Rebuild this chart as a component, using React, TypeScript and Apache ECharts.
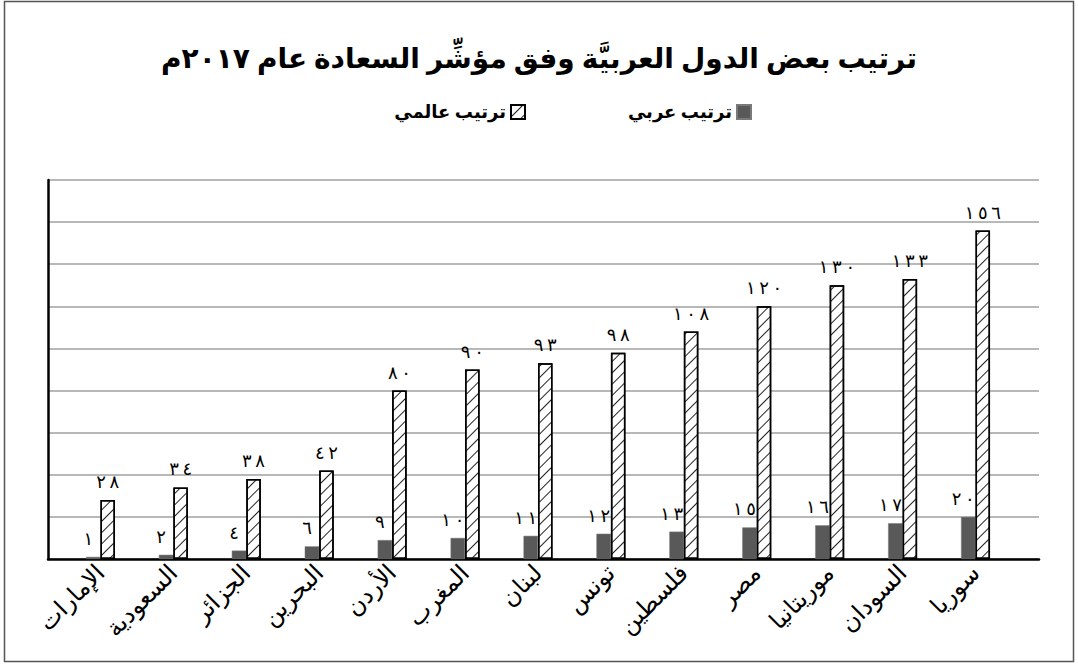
import React, { useEffect, useRef } from "react";
import * as echarts from "echarts";

const title = "ترتيب بعض الدول العربيَّة وفق مؤشِّر السعادة عام ٢٠١٧م";
const seriesArabName = "ترتيب عربي";
const seriesWorldName = "ترتيب عالمي";
const countries = [
  "الإمارات",
  "السعودية",
  "الجزائر",
  "البحرين",
  "الأردن",
  "المغرب",
  "لبنان",
  "تونس",
  "فلسطين",
  "مصر",
  "موريتانيا",
  "السودان",
  "سوريا",
];
const arabRank = [1, 2, 4, 6, 9, 10, 11, 12, 13, 15, 16, 17, 20];
const worldRank = [28, 34, 38, 42, 80, 90, 93, 98, 108, 120, 130, 133, 156];
const yMax = 180;
const yInterval = 20;

const toArabicDigits = (n: number | string) =>
  "\u202D" +
  String(n)
    .replace(/\d/g, (d) => "٠١٢٣٤٥٦٧٨٩"[+d])
    .split("")
    .join("\u2009") +
  "\u202C";

const FONT = "'Times New Roman', 'Liberation Serif', 'DejaVu Sans', serif";

export default function App() {
  const ref = useRef<HTMLDivElement>(null);
  useEffect(() => {
    if (!ref.current) return;
    const chart = echarts.init(ref.current, undefined, { renderer: "svg" });
    const hatch = {
      symbol: "rect",
      symbolSize: 1,
      color: "#222",
      backgroundColor: "#fff",
      dashArrayX: [1, 0],
      dashArrayY: [1, 7],
      rotation: -Math.PI / 4,
    };
    const legendText = { fontSize: 18, fontWeight: "bold", color: "#000", fontFamily: FONT };
    chart.setOption({
      animation: false,
      backgroundColor: "#fff",
      textStyle: { fontFamily: FONT },
      title: {
        text: title,
        left: "center",
        top: 39,
        textStyle: { fontSize: 28, fontWeight: "bold", color: "#000", fontFamily: FONT },
      },
      legend: [
        {
          data: [{ name: seriesArabName, icon: "rect" }],
          right: 1078 - 757,
          top: 98,
          align: "right",
          itemWidth: 14,
          itemHeight: 14,
          textStyle: legendText,
        },
        {
          data: [{ name: seriesWorldName, icon: "rect" }],
          right: 1078 - 531,
          top: 98,
          align: "right",
          itemWidth: 14,
          itemHeight: 14,
          textStyle: legendText,
        },
      ],
      graphic: [
        {
          type: "rect",
          shape: { x: 4.5, y: 1.5, width: 1069, height: 660 },
          style: { fill: "none", stroke: "#555", lineWidth: 1.5 },
          silent: true,
        },
      ],
      grid: [
        { left: 48, right: 1078 - 1039, top: 180, bottom: 664 - 559 },
        { left: 64, right: 1078 - 1012, top: 180, bottom: 664 - 559 },
      ],
      xAxis: [
        {
          gridIndex: 0,
          type: "value",
          min: 0,
          max: 1,
          axisLine: { show: true, onZero: false, lineStyle: { color: "#000", width: 2.5 } },
          axisTick: { show: false },
          axisLabel: { show: false },
          splitLine: { show: false },
        },
        {
          gridIndex: 1,
          type: "category",
          data: countries,
          axisLine: { show: false },
          axisTick: { show: false },
          axisLabel: {
            rotate: 45,
            margin: 10,
            fontSize: 24,
            color: "#000",
            fontFamily: FONT,
            interval: 0,
          },
        },
      ],
      yAxis: [
        {
          gridIndex: 0,
          type: "value",
          min: 0,
          max: yMax,
          interval: yInterval,
          axisLine: { show: true, lineStyle: { color: "#000", width: 2.5 } },
          axisTick: { show: false },
          axisLabel: { show: false },
          splitLine: { show: true, lineStyle: { color: "#a0a0a0", width: 1.5 } },
        },
        {
          gridIndex: 1,
          type: "value",
          min: 0,
          max: yMax,
          interval: yInterval,
          axisLine: { show: false },
          axisTick: { show: false },
          axisLabel: { show: false },
          splitLine: { show: false },
        },
      ],
      series: [
        {
          name: seriesArabName,
          type: "bar",
          xAxisIndex: 1,
          yAxisIndex: 1,
          data: arabRank,
          barWidth: 14.5,
          barGap: "0%",
          itemStyle: { color: "#595959", borderColor: "#7a7a7a", borderWidth: 0.5 },
          label: {
            show: true,
            position: "top",
            distance: 9,
            offset: [-5, 0],
            fontSize: 18,
            color: "#000",
            fontFamily: FONT,
            formatter: (p: any) => toArabicDigits(p.value),
          },
        },
        {
          name: seriesWorldName,
          type: "bar",
          xAxisIndex: 1,
          yAxisIndex: 1,
          data: worldRank,
          barWidth: 14.5,
          barGap: "0%",
          itemStyle: { color: "#fff", borderColor: "#000", borderWidth: 1.5, decal: hatch },
          label: {
            show: true,
            position: "top",
            distance: 9,
            fontSize: 18,
            color: "#000",
            fontFamily: FONT,
            formatter: (p: any) => toArabicDigits(p.value),
          },
        },
      ],
    });
    return () => chart.dispose();
  }, []);
  return (
    <div
      ref={ref}
      style={{ position: "absolute", left: 0, top: 0, width: 1078, height: 664 }}
    />
  );
}
